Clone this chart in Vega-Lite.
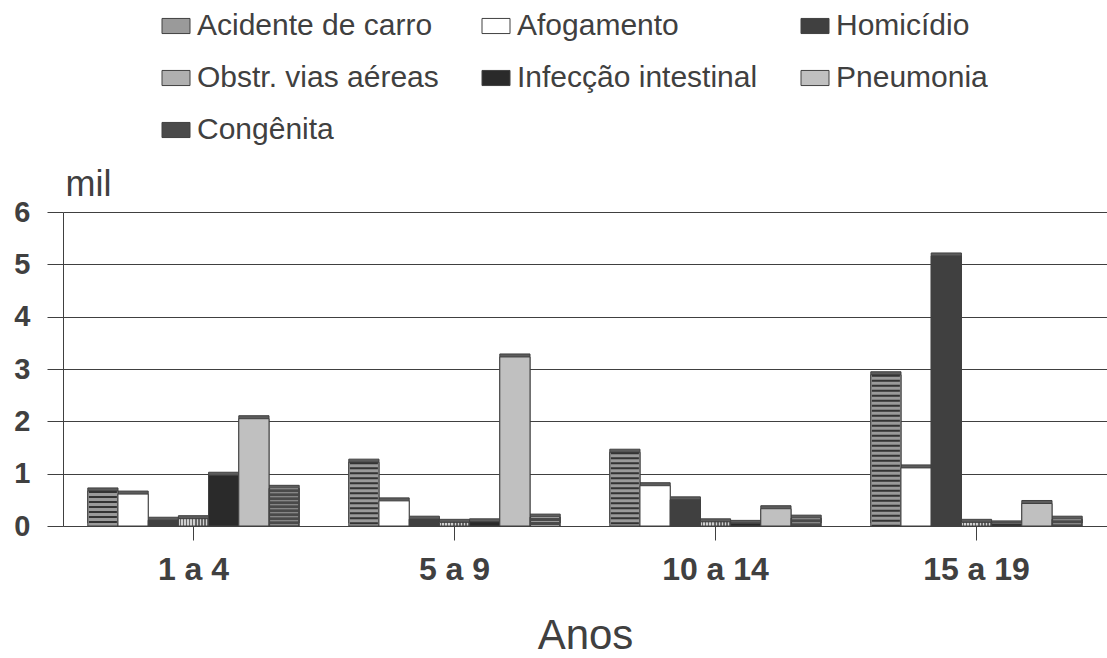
{
  "$schema": "https://vega.github.io/schema/vega-lite/v6.json",
  "width": 1044,
  "height": 314,
  "autosize": {"type": "none"},
  "padding": {"left": 63, "top": 212, "right": 0, "bottom": 132},
  "background": "white",
  "config": {"font": "Liberation Sans", "view": {"stroke": null}},
  "data": {
    "values": [
      {"faixa": "1 a 4", "causa": "Acidente de carro", "valor": 0.67},
      {"faixa": "1 a 4", "causa": "Afogamento", "valor": 0.61},
      {"faixa": "1 a 4", "causa": "Homicídio", "valor": 0.11},
      {"faixa": "1 a 4", "causa": "Obstr. vias aéreas", "valor": 0.14},
      {"faixa": "1 a 4", "causa": "Infecção intestinal", "valor": 0.97},
      {"faixa": "1 a 4", "causa": "Pneumonia", "valor": 2.05},
      {"faixa": "1 a 4", "causa": "Congênita", "valor": 0.72},
      {"faixa": "5 a 9", "causa": "Acidente de carro", "valor": 1.22},
      {"faixa": "5 a 9", "causa": "Afogamento", "valor": 0.48},
      {"faixa": "5 a 9", "causa": "Homicídio", "valor": 0.13},
      {"faixa": "5 a 9", "causa": "Obstr. vias aéreas", "valor": 0.07},
      {"faixa": "5 a 9", "causa": "Infecção intestinal", "valor": 0.08},
      {"faixa": "5 a 9", "causa": "Pneumonia", "valor": 3.23},
      {"faixa": "5 a 9", "causa": "Congênita", "valor": 0.17},
      {"faixa": "10 a 14", "causa": "Acidente de carro", "valor": 1.41},
      {"faixa": "10 a 14", "causa": "Afogamento", "valor": 0.77},
      {"faixa": "10 a 14", "causa": "Homicídio", "valor": 0.5},
      {"faixa": "10 a 14", "causa": "Obstr. vias aéreas", "valor": 0.08},
      {"faixa": "10 a 14", "causa": "Infecção intestinal", "valor": 0.05},
      {"faixa": "10 a 14", "causa": "Pneumonia", "valor": 0.33},
      {"faixa": "10 a 14", "causa": "Congênita", "valor": 0.15},
      {"faixa": "15 a 19", "causa": "Acidente de carro", "valor": 2.89},
      {"faixa": "15 a 19", "causa": "Afogamento", "valor": 1.11},
      {"faixa": "15 a 19", "causa": "Homicídio", "valor": 5.16},
      {"faixa": "15 a 19", "causa": "Obstr. vias aéreas", "valor": 0.07},
      {"faixa": "15 a 19", "causa": "Infecção intestinal", "valor": 0.04},
      {"faixa": "15 a 19", "causa": "Pneumonia", "valor": 0.43},
      {"faixa": "15 a 19", "causa": "Congênita", "valor": 0.13}
    ]
  },
  "encoding": {
    "x": {
      "field": "faixa",
      "type": "nominal",
      "sort": ["1 a 4", "5 a 9", "10 a 14", "15 a 19"],
      "scale": {"paddingInner": 0.19, "paddingOuter": 0.095},
      "axis": {
        "title": "Anos",
        "titleFontSize": 42,
        "titleFontWeight": "normal",
        "titleColor": "#404040",
        "titlePadding": 30,
        "labelAngle": 0,
        "labelFontSize": 32,
        "labelFontWeight": "bold",
        "labelColor": "#404040",
        "labelPadding": 14,
        "tickSize": 14,
        "tickColor": "#404040",
        "domainColor": "#404040",
        "grid": false
      }
    },
    "xOffset": {
      "field": "causa",
      "type": "nominal",
      "scale": {
        "domain": ["Acidente de carro", "Afogamento", "Homicídio", "Obstr. vias aéreas", "Infecção intestinal", "Pneumonia", "Congênita"],
        "paddingInner": 0,
        "paddingOuter": 0
      }
    },
    "y": {
      "field": "valor",
      "type": "quantitative",
      "scale": {"domain": [0, 6], "nice": false},
      "axis": {
        "values": [0, 1, 2, 3, 4, 5, 6],
        "title": "mil",
        "titleAngle": 0,
        "titleAlign": "left",
        "titleBaseline": "alphabetic",
        "titleX": 2,
        "titleY": -17,
        "titleFontSize": 36,
        "titleFontWeight": "normal",
        "titleColor": "#404040",
        "labelFontSize": 29,
        "labelFontWeight": "bold",
        "labelColor": "#404040",
        "labelPadding": 17,
        "tickSize": 16,
        "tickColor": "#404040",
        "domainColor": "#404040",
        "gridColor": "#404040",
        "grid": true
      }
    }
  },
  "layer": [
    {
      "mark": {"type": "bar", "fill": "#5c5c5c", "stroke": "#404040", "strokeWidth": 1, "xOffset": 4, "yOffset": -3},
      "encoding": {}
    },
    {
      "mark": {"type": "bar", "stroke": "#404040", "strokeWidth": 1},
      "encoding": {
        "color": {
          "field": "causa",
          "type": "nominal",
          "scale": {
            "domain": ["Acidente de carro", "Afogamento", "Homicídio", "Obstr. vias aéreas", "Infecção intestinal", "Pneumonia", "Congênita"],
            "range": ["#9a9a9a", "#ffffff", "#404040", "#b0b0b0", "#2a2a2a", "#c0c0c0", "#4a4a4a"]
          },
          "legend": {
            "title": null,
            "orient": "none",
            "legendX": 98,
            "legendY": -201,
            "direction": "horizontal",
            "columns": 3,
            "columnPadding": 41,
            "rowPadding": 22,
            "labelFontSize": 30,
            "labelLimit": 500,
            "labelColor": "#404040",
            "labelOffset": 6,
            "symbolType": "M-1,-0.54 L1,-0.54 L1,0.54 L-1,0.54 Z",
            "symbolSize": 784,
            "symbolStrokeColor": "#404040",
            "symbolStrokeWidth": 1,
            "symbolOpacity": 1,
            "encode": {
              "symbols": {
                "update": {
                  "stroke": {"value": "#404040"},
                  "strokeWidth": {"value": 1},
                  "opacity": {"value": 1},
                  "fill": [
                    {
                      "test": "datum.value === 'Acidente de carro'",
                      "value": {
                        "gradient": "linear", "x1": 0, "x2": 0, "y1": 0, "y2": 1,
                        "stops": [
                          {"offset": 0, "color": "#a8a8a8"}, {"offset": 0.1, "color": "#a8a8a8"}, {"offset": 0.1, "color": "#333333"}, {"offset": 0.2, "color": "#333333"},
                          {"offset": 0.2, "color": "#a8a8a8"}, {"offset": 0.3, "color": "#a8a8a8"}, {"offset": 0.3, "color": "#333333"}, {"offset": 0.4, "color": "#333333"},
                          {"offset": 0.4, "color": "#a8a8a8"}, {"offset": 0.5, "color": "#a8a8a8"}, {"offset": 0.5, "color": "#333333"}, {"offset": 0.6, "color": "#333333"},
                          {"offset": 0.6, "color": "#a8a8a8"}, {"offset": 0.7, "color": "#a8a8a8"}, {"offset": 0.7, "color": "#333333"}, {"offset": 0.8, "color": "#333333"},
                          {"offset": 0.8, "color": "#a8a8a8"}, {"offset": 0.9, "color": "#a8a8a8"}, {"offset": 0.9, "color": "#333333"}, {"offset": 1, "color": "#333333"}
                        ]
                      }
                    },
                    {
                      "test": "datum.value === 'Obstr. vias aéreas'",
                      "value": {
                        "gradient": "linear", "x1": 0, "x2": 1, "y1": 0, "y2": 0,
                        "stops": [
                          {"offset": 0, "color": "#d0d0d0"}, {"offset": 0.1, "color": "#d0d0d0"}, {"offset": 0.1, "color": "#666666"}, {"offset": 0.2, "color": "#666666"},
                          {"offset": 0.2, "color": "#d0d0d0"}, {"offset": 0.3, "color": "#d0d0d0"}, {"offset": 0.3, "color": "#666666"}, {"offset": 0.4, "color": "#666666"},
                          {"offset": 0.4, "color": "#d0d0d0"}, {"offset": 0.5, "color": "#d0d0d0"}, {"offset": 0.5, "color": "#666666"}, {"offset": 0.6, "color": "#666666"},
                          {"offset": 0.6, "color": "#d0d0d0"}, {"offset": 0.7, "color": "#d0d0d0"}, {"offset": 0.7, "color": "#666666"}, {"offset": 0.8, "color": "#666666"},
                          {"offset": 0.8, "color": "#d0d0d0"}, {"offset": 0.9, "color": "#d0d0d0"}, {"offset": 0.9, "color": "#666666"}, {"offset": 1, "color": "#666666"}
                        ]
                      }
                    },
                    {"scale": "color", "field": "value"}
                  ]
                }
              }
            }
          }
        }
      }
    },
    {
      "transform": [{"filter": "datum.causa === 'Acidente de carro'"}],
      "mark": {"type": "rule", "strokeWidth": 28, "strokeDash": [2, 3], "color": "#333333", "strokeCap": "butt"},
      "encoding": {"y2": {"datum": 0}}
    },
    {
      "transform": [{"filter": "datum.causa === 'Obstr. vias aéreas'"}],
      "mark": {
        "type": "bar",
        "stroke": "#404040",
        "strokeWidth": 1,
        "fill": {
          "gradient": "linear", "x1": 0, "x2": 1, "y1": 0, "y2": 0,
          "stops": [
            {"offset": 0, "color": "#d0d0d0"}, {"offset": 0.05, "color": "#d0d0d0"}, {"offset": 0.05, "color": "#666666"}, {"offset": 0.1, "color": "#666666"},
            {"offset": 0.1, "color": "#d0d0d0"}, {"offset": 0.15, "color": "#d0d0d0"}, {"offset": 0.15, "color": "#666666"}, {"offset": 0.2, "color": "#666666"},
            {"offset": 0.2, "color": "#d0d0d0"}, {"offset": 0.25, "color": "#d0d0d0"}, {"offset": 0.25, "color": "#666666"}, {"offset": 0.3, "color": "#666666"},
            {"offset": 0.3, "color": "#d0d0d0"}, {"offset": 0.35, "color": "#d0d0d0"}, {"offset": 0.35, "color": "#666666"}, {"offset": 0.4, "color": "#666666"},
            {"offset": 0.4, "color": "#d0d0d0"}, {"offset": 0.45, "color": "#d0d0d0"}, {"offset": 0.45, "color": "#666666"}, {"offset": 0.5, "color": "#666666"},
            {"offset": 0.5, "color": "#d0d0d0"}, {"offset": 0.55, "color": "#d0d0d0"}, {"offset": 0.55, "color": "#666666"}, {"offset": 0.6, "color": "#666666"},
            {"offset": 0.6, "color": "#d0d0d0"}, {"offset": 0.65, "color": "#d0d0d0"}, {"offset": 0.65, "color": "#666666"}, {"offset": 0.7, "color": "#666666"},
            {"offset": 0.7, "color": "#d0d0d0"}, {"offset": 0.75, "color": "#d0d0d0"}, {"offset": 0.75, "color": "#666666"}, {"offset": 0.8, "color": "#666666"},
            {"offset": 0.8, "color": "#d0d0d0"}, {"offset": 0.85, "color": "#d0d0d0"}, {"offset": 0.85, "color": "#666666"}, {"offset": 0.9, "color": "#666666"},
            {"offset": 0.9, "color": "#d0d0d0"}, {"offset": 0.95, "color": "#d0d0d0"}, {"offset": 0.95, "color": "#666666"}, {"offset": 1, "color": "#666666"}
          ]
        }
      },
      "encoding": {}
    },
    {
      "transform": [{"filter": "datum.causa === 'Congênita'"}],
      "mark": {"type": "rule", "strokeWidth": 28, "strokeDash": [1, 3], "color": "#9a9a9a", "strokeCap": "butt"},
      "encoding": {"y2": {"datum": 0}}
    }
  ]
}
